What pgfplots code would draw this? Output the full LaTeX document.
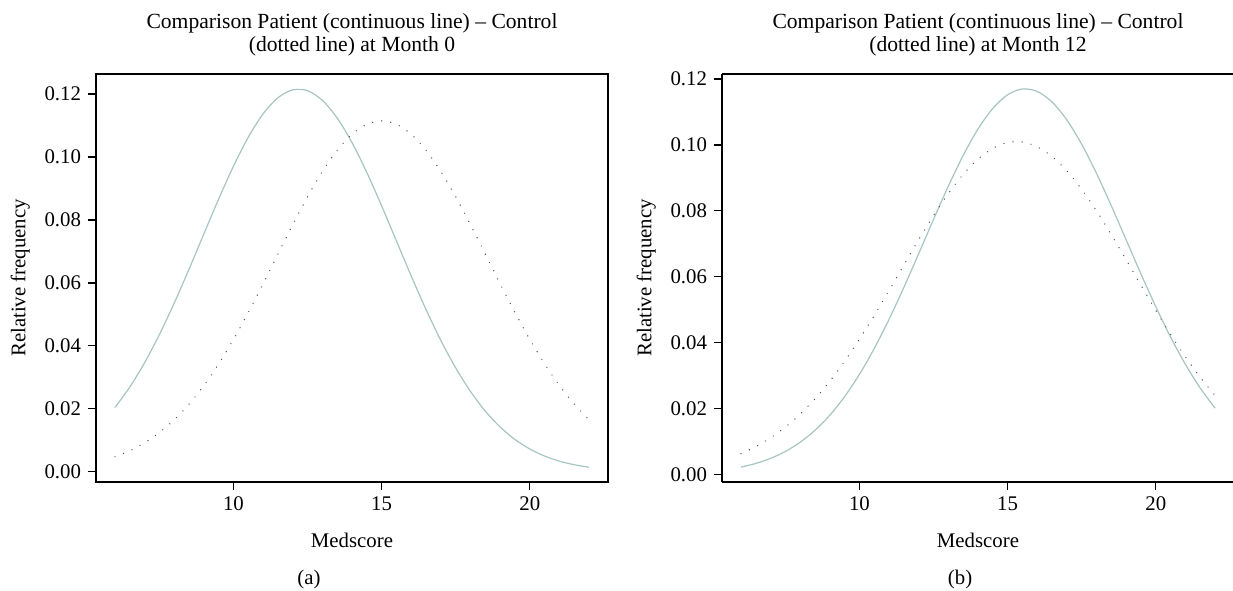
\documentclass[border=0pt]{standalone}
\usepackage{pgfplots}
\pgfplotsset{compat=1.18}
\usepackage{fontspec}
\setmainfont{Liberation Serif}
\definecolor{pat}{RGB}{168,196,192}
\definecolor{ctl}{RGB}{80,80,80}

\pgfplotsset{
  medaxis/.style={
    scale only axis, width=256pt, height=204pt,
    xmin=5.36, xmax=22.64,
    xtick={10,15,20},
    ytick={0,0.02,0.04,0.06,0.08,0.10,0.12},
    scaled y ticks=false,
    y tick label style={/pgf/number format/.cd, fixed, fixed zerofill, precision=2, /tikz/.cd},
    /pgf/number format/assume math mode=true,
    tick align=outside, tick pos=left, major tick length=4pt,
    axis line style={line width=0.9pt},
    tick style={black, line width=0.7pt},
    clip=false,
    font=\fontsize{10.4}{12}\selectfont,
    xlabel={Medscore}, ylabel={Relative frequency},
    every axis x label/.style={at={(axis description cs:0.5,-0.142)}, anchor=center},
    every axis y label/.style={at={(axis description cs:-0.148,0.5)}, rotate=90, anchor=center},
    title style={align=center, font=\fontsize{10.8}{11.6}\selectfont,
      at={(axis description cs:0.5,1.066)}, anchor=center},
  },
  patient/.style={pat, line width=0.6pt, smooth},
  control/.style={ctl, line width=0.7pt, line cap=round, dash pattern=on 0pt off 4.6pt, smooth},
}

\begin{document}
\begin{tikzpicture}
% Month 0
\begin{axis}[medaxis, at={(0,0)},
    ymin=-0.0033, ymax=0.1264,
    title={Comparison Patient (continuous line) -- Control\\(dotted line) at Month 0}]
\addplot[patient] coordinates {
  (6,0.02038) (6.5,0.02688) (7,0.03462) (7.5,0.04357) (8,0.05358) (8.5,0.06436)
  (9,0.07555) (9.5,0.08667) (10,0.09711) (10.5,0.10632) (11,0.11373) (11.5,0.11886)
  (12,0.12137) (12.5,0.12109) (13,0.11804) (13.5,0.11242) (14,0.10460) (14.5,0.09510)
  (15,0.08448) (15.5,0.07331) (16,0.06216) (16.5,0.05150) (17,0.04168) (17.5,0.03297)
  (18,0.02548) (18.5,0.01923) (19,0.01418) (19.5,0.01022) (20,0.00720) (20.5,0.00495)
  (21,0.00333) (21.5,0.00219) (22,0.00140)};
\addplot[control] coordinates {
  (6,0.00473) (6.5,0.00665) (7,0.00918) (7.5,0.01242) (8,0.01648) (8.5,0.02145)
  (9,0.02737) (9.5,0.03425) (10,0.04204) (10.5,0.05060) (11,0.05973) (11.5,0.06913)
  (12,0.07848) (12.5,0.08737) (13,0.09539) (13.5,0.10213) (14,0.10723) (14.5,0.11042)
  (15,0.1115) (15.5,0.11042) (16,0.10723) (16.5,0.10213) (17,0.09539) (17.5,0.08737)
  (18,0.07848) (18.5,0.06913) (19,0.05973) (19.5,0.05060) (20,0.04204) (20.5,0.03425)
  (21,0.02737) (21.5,0.02145) (22,0.01648)};
\node at (axis description cs:0.416,-0.24) {(a)};
\end{axis}
% Month 12
\begin{axis}[medaxis, at={(313pt,0)},
    axis x line*=box, axis y line*=left,
    ymin=-0.0023, ymax=0.1215,
    title={Comparison Patient (continuous line) -- Control\\(dotted line) at Month 12}]
\addplot[patient] coordinates {
  (6,0.00223) (6.5,0.00333) (7,0.00487) (7.5,0.00697) (8,0.00977) (8.5,0.01340)
  (9,0.01798) (9.5,0.02364) (10,0.03039) (10.5,0.03825) (11,0.04711) (11.5,0.05679)
  (12,0.06702) (12.5,0.07740) (13,0.08749) (13.5,0.09679) (14,0.10481) (14.5,0.11107)
  (15,0.11520) (15.5,0.11695) (16,0.11620) (16.5,0.11300) (17,0.10755) (17.5,0.10018)
  (18,0.09134) (18.5,0.08150) (19,0.07118) (19.5,0.06084) (20,0.05090) (20.5,0.04168)
  (21,0.03340) (21.5,0.02620) (22,0.02011)};
\addplot[control] coordinates {
  (6,0.00632) (6.5,0.00844) (7,0.01111) (7.5,0.01437) (8,0.01831) (8.5,0.02295)
  (9,0.02831) (9.5,0.03437) (10,0.04106) (10.5,0.04827) (11,0.05584) (11.5,0.06358)
  (12,0.07125) (12.5,0.07856) (13,0.08525) (13.5,0.09104) (14,0.09568) (14.5,0.09895)
  (15,0.10071) (15.5,0.10087) (16,0.09942) (16.5,0.09645) (17,0.09207) (17.5,0.08649)
  (18,0.07996) (18.5,0.07274) (19,0.06514) (19.5,0.05739) (20,0.04976) (20.5,0.04246)
  (21,0.03565) (21.5,0.02946) (22,0.02397)};
\node at (axis description cs:0.465,-0.24) {(b)};
\end{axis}
\pgfresetboundingbox
\path[use as bounding box] (-48pt,-54pt) rectangle (568.5pt,241pt);
\end{tikzpicture}
\end{document}
